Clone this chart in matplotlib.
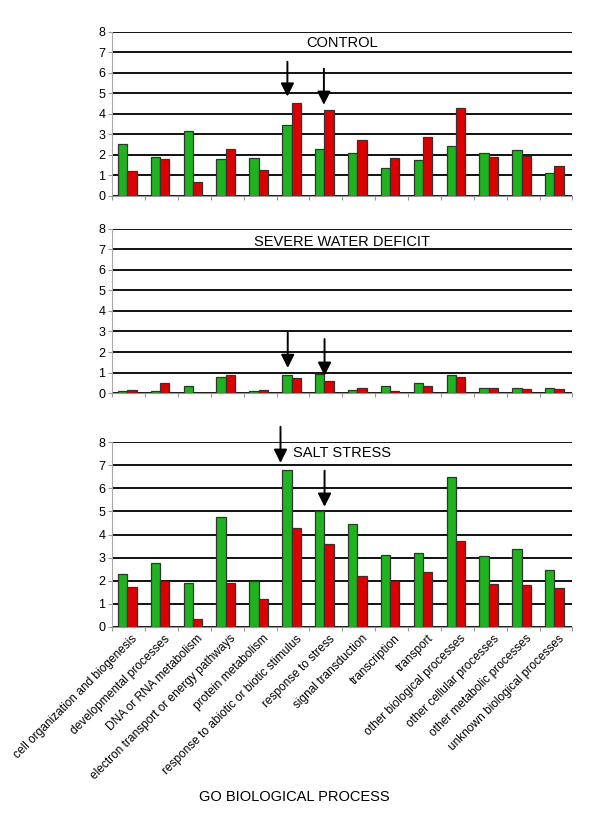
"""GO biological process distribution under control, water deficit and salt stress."""
import matplotlib
matplotlib.use('Agg')
import matplotlib.pyplot as plt
import numpy as np

plt.rcParams['font.family'] = ['Liberation Sans', 'DejaVu Sans']

categories = ['cell organization and biogenesis', 'developmental processes',
              'DNA or RNA metabolism', 'electron transport or energy pathways',
              'protein metabolism', 'response to abiotic or biotic stimulus',
              'response to stress', 'signal transduction', 'transcription',
              'transport', 'other biological processes', 'other cellular processes',
              'other metabolic processes', 'unknown biological processes']

control_green = [2.51, 1.89, 3.17, 1.78, 1.83, 3.48, 2.30, 2.09, 1.37, 1.73, 2.43, 2.07, 2.24, 1.13]
control_red = [1.21, 1.78, 0.67, 2.27, 1.27, 4.52, 4.18, 2.71, 1.86, 2.86, 4.28, 1.89, 1.93, 1.47]

drought_green = [0.11, 0.10, 0.34, 0.76, 0.11, 0.89, 0.94, 0.15, 0.33, 0.49, 0.88, 0.24, 0.26, 0.24]
drought_red = [0.16, 0.47, 0.0, 0.89, 0.16, 0.73, 0.57, 0.23, 0.10, 0.33, 0.78, 0.24, 0.20, 0.20]

salt_green = [2.31, 2.77, 1.91, 4.74, 1.98, 6.81, 5.00, 4.44, 3.12, 3.18, 6.47, 3.09, 3.38, 2.46]
salt_red = [1.74, 1.98, 0.36, 1.90, 1.21, 4.30, 3.58, 2.20, 1.98, 2.39, 3.72, 1.88, 1.82, 1.67]

panel_titles = ['CONTROL', 'SEVERE WATER DEFICIT', 'SALT STRESS']
title_y = [7.46, 7.38, 7.52]

# arrows: (x in category units, y start, y tip)
arrows = [
    [(4.83, 6.54, 4.84), (5.94, 6.20, 4.44)],
    [(4.84, 2.94, 1.22), (5.96, 2.63, 0.84)],
    [(4.62, 8.66, 7.10), (5.96, 6.76, 5.20)],
]

GREEN = '#1fb31f'
RED = '#dd0000'

panels = [(control_green, control_red), (drought_green, drought_red), (salt_green, salt_red)]
positions = [[0.187, 0.7613, 0.767, 0.200],
             [0.187, 0.5213, 0.767, 0.1998],
             [0.187, 0.2363, 0.767, 0.2253]]

fig = plt.figure(figsize=(6.0, 8.21), dpi=100)
x = np.arange(len(categories))
w = 0.285
off = -0.045

for k, (g, r) in enumerate(panels):
    ax = fig.add_axes(positions[k])
    ax.set_axisbelow(True)
    ax.yaxis.grid(True, color='#111111', linewidth=1.4)
    ax.bar(x + off - w / 2, g, width=w, color=GREEN, edgecolor='#333333', linewidth=0.9, zorder=3)
    ax.bar(x + off + w / 2, r, width=w, color=RED, edgecolor='#333333', linewidth=0.9, zorder=3)
    ax.set_xlim(-0.5, len(categories) - 0.5)
    ax.set_ylim(0, 8)
    ax.set_yticks(range(0, 9))
    ax.tick_params(axis='y', labelsize=9, length=3, width=0.8, color='#999999', pad=2)
    ax.set_xticks(np.arange(-0.5, len(categories), 1.0))
    ax.tick_params(axis='x', length=3, width=0.8, color='#999999', labelbottom=False)
    for s in ['top', 'right']:
        ax.spines[s].set_visible(False)
    ax.spines['left'].set_color('#aaaaaa')
    ax.spines['bottom'].set_color('#999999')
    ax.spines['left'].set_linewidth(0.8)
    ax.spines['bottom'].set_linewidth(0.8)
    ax.text(0.5, title_y[k], panel_titles[k], transform=ax.get_yaxis_transform(),
            ha='center', va='center', fontsize=10.5)
    for xa, y0, y1 in arrows[k]:
        ax.annotate('', xy=(xa, y1), xytext=(xa, y0),
                    arrowprops=dict(arrowstyle='-|>,head_length=0.8,head_width=0.4',
                                    color='black', lw=1.4, shrinkA=0, shrinkB=0,
                                    mutation_scale=10),
                    annotation_clip=False, zorder=5)
    if k == 2:
        for i, lab in enumerate(categories):
            ax.text(i + 0.08, -0.25, lab, rotation=45, rotation_mode='anchor',
                    ha='right', va='top', fontsize=8.6)

fig.text(0.49, 1 - 797 / 821, 'GO BIOLOGICAL PROCESS', ha='center', va='center', fontsize=10.5)

fig.savefig('out.png', dpi=100)
plt.close()
